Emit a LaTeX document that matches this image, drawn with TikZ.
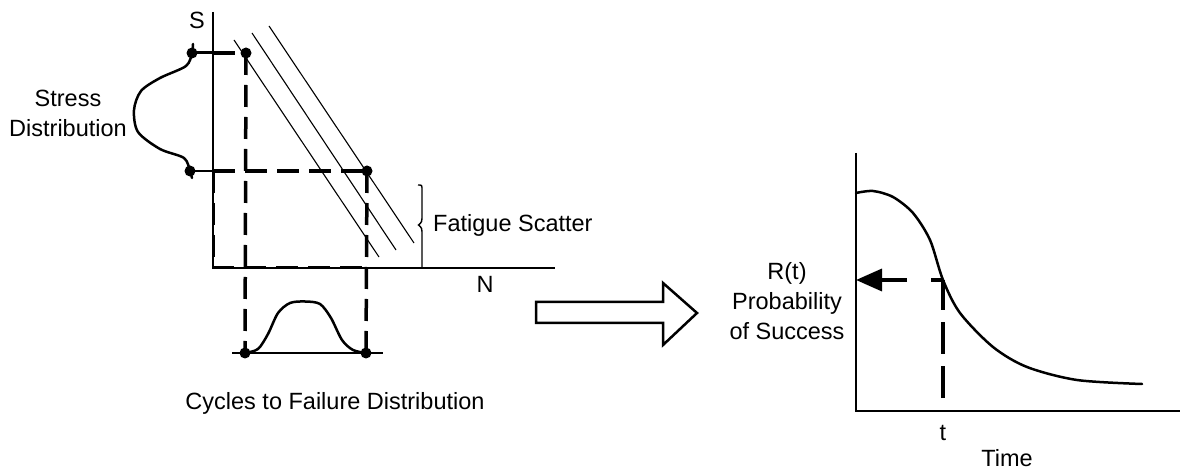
\documentclass[tikz,border=0pt]{standalone}
\usepackage{fontspec}
\setmainfont{Liberation Sans}
\usetikzlibrary{arrows.meta}
\tikzset{
  lbl/.style={inner sep=0pt, font=\fontsize{23.5}{30}\selectfont, align=center},
  dot/.style={circle, fill=black, inner sep=0pt, minimum size=11pt},
  axis/.style={line width=2.6pt},
  thickdash/.style={line width=3.5pt, dash pattern=on 22pt off 10pt},
  thin/.style={line width=1.1pt},
  curve/.style={line width=2.5pt, line join=round, line cap=round},
}
\begin{document}
\begin{tikzpicture}[x=1pt,y=-1pt]
\useasboundingbox (0,0) rectangle (1189,470);
% ---------------- left S-N chart ----------------
\coordinate (sTop) at (213,12);
\coordinate (sOrig) at (213,268);
\coordinate (nEnd) at (555,268);
\draw[axis] (sTop) -- (sOrig) -- (nEnd);
\node[lbl] (S) at (197,20) {S};
\node[lbl] (N) at (485,284) {N};
% dots
\node[dot] (st1) at (192,53) {};
\node[dot] (st2) at (190,171) {};
\node[dot] (sn1) at (246,53) {};
\node[dot] (sn2) at (367,171) {};
\node[dot] (cf1) at (245,353) {};
\node[dot] (cf2) at (366,353) {};
\coordinate (ax1) at (213,53);
\coordinate (ax2) at (213,171);
% S-N scatter lines
\coordinate (a1) at (234,40);  \coordinate (b1) at (379,257);
\coordinate (a2) at (252,33);  \coordinate (b2) at (396,250);
\coordinate (a3) at (269,26);  \coordinate (b3) at (414,243);
\draw[thin] (a1) -- (b1);
\draw[thin] (a2) -- (b2);
\draw[thin] (a3) -- (b3);
% projection lines
\draw[line width=3pt] (st1.center) -- (ax1);
\draw[thickdash] (ax1) -- (sn1.center);
\draw[line width=1.6pt] (st2.center) -- (ax2);
\draw[thickdash] (ax2) -- (sn2.center);
\draw[thickdash] (sn1.center) -- (cf1.center);
\draw[thickdash] (sn2.center) -- (cf2.center);
\draw[line width=3pt, dash pattern=on 22pt off 10pt] (ax2) -- (sOrig) -- (367,268);
% stress distribution curve
\draw[curve] plot[smooth] coordinates {(193,44) (192,53) (186,66) (160,78) (141,91) (134,110) (138,132) (160,149) (184,158) (190,171) (192,178)};
\node[lbl] (stress) at (68,113) {Stress\\Distribution};
% cycles to failure distribution
\coordinate (cfL) at (232,353);
\coordinate (cfR) at (383,353);
\draw[line width=2.5pt] (cfL) -- (cfR);
\draw[curve] plot[smooth] coordinates {(245,353) (258,349) (268,334) (278,313) (290,303) (305,301.5) (320,304) (331,318) (342,340) (353,350) (366,353)};
\node[lbl] (cycles) at (335,403) {Cycles to Failure Distribution};
% fatigue scatter bracket
\coordinate (brTop) at (418,185);
\coordinate (brBot) at (422,268);
\draw[line width=1.4pt] (brTop) .. controls (422,185) .. (422,190) -- (422,214)
  .. controls (422,222) .. (418.5,225) .. controls (422,228) .. (422,236) -- (brBot);
\node[lbl, anchor=west] (fs) at (433,225) {Fatigue Scatter};
% ---------------- hollow arrow ----------------
\draw[line width=2.5pt, line join=miter] (536,302) -- (663,302) -- (663,283) -- (697,313)
  -- (663,345) -- (663,323) -- (536,323) -- cycle;
% ---------------- right reliability chart ----------------
\coordinate (rTop) at (856,153);
\coordinate (rOrig) at (856,411);
\coordinate (tEnd) at (1180,411);
\draw[axis] (rTop) -- (rOrig) -- (tEnd);
\coordinate (rt) at (856,280);
\coordinate (cpt) at (943,280);
\coordinate (tAx) at (943,398);
\draw[curve] plot[smooth] coordinates {(856,193) (873,191) (893,197) (913,213) (930,240) (943,280) (960,313) (993,347) (1027,367) (1077,380) (1142,384)};
\draw[line width=3.5pt, dash pattern=on 25pt off 24pt, dash phase=13pt,
  -{Triangle[length=26pt,width=22pt]}] (cpt) -- (rt);
\draw[line width=3.5pt, dash pattern=on 32pt off 12pt] (tAx) -- (cpt);
\node[lbl] (R) at (787,301) {R(t)\\Probability\\of Success};
\node[lbl] (t) at (943,433) {t};
\node[lbl] (time) at (1007,458) {Time};
\end{tikzpicture}
\end{document}
